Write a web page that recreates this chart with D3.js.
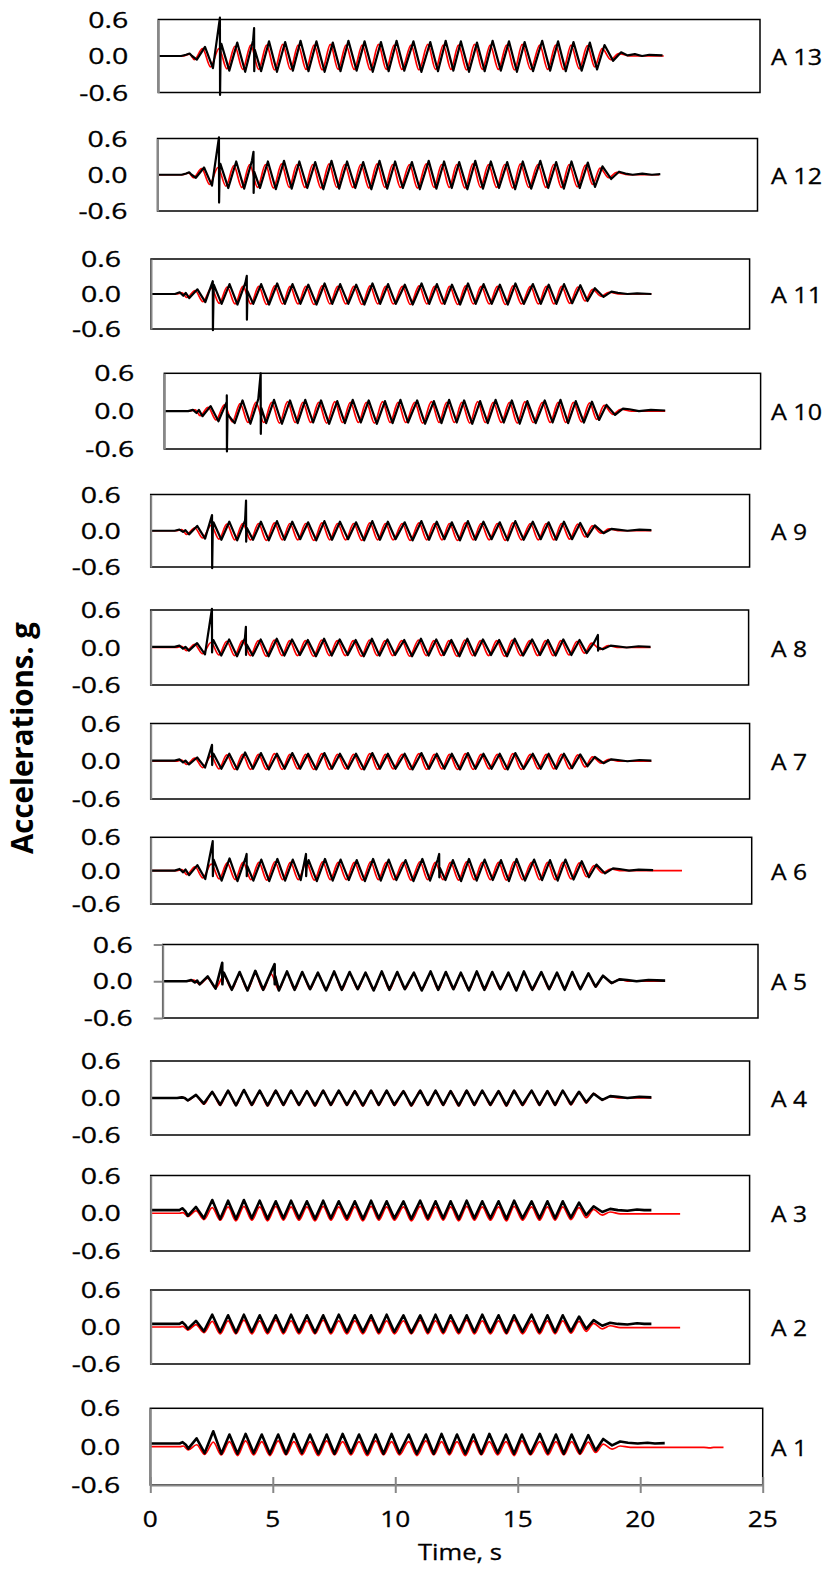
<!DOCTYPE html>
<html><head><meta charset="utf-8">
<script src="https://cdn.jsdelivr.net/npm/d3@7"></script>
<style>body{margin:0;background:#fff} text{font-family:"Open Sans",Lato,sans-serif;fill:#000}</style>
</head><body><svg id="c" width="831" height="1576"></svg>
<script>
// ---------------- DATA ----------------
const panelNames = ["A 13","A 12","A 11","A 10","A 9","A 8","A 7","A 6","A 5","A 4","A 3","A 2","A 1"];
const yTicks = [-0.6, 0.0, 0.6];
const yTickLabels = ["-0.6", "0.0", "0.6"];
const xTicks = [0, 5, 10, 15, 20, 25];
const xTickLabels = ["0", "5", "10", "15", "20", "25"];
// times (s) of cycle peaks / troughs read from the record
const peakTimes   = [1.89,2.57,3.23,3.89,4.55,5.22,5.86,6.52,7.20,7.85,8.52,9.20,9.85,10.55,11.25,11.89,12.52,13.19,13.84,14.52,15.17,15.90,16.56,17.20,17.88,18.49,19.18];
const troughTimes = [1.55,2.22,2.90,3.56,4.22,4.88,5.54,6.19,6.86,7.52,8.19,8.86,9.52,10.17,10.88,11.57,12.21,12.86,13.51,14.18,14.85,15.52,16.23,16.88,17.54,18.18,18.85];

// A 13
const a13BlackPk = [0.15,0.20,0.22,0.26,0.24,0.23,0.25,0.24,0.22,0.25,0.24,0.23,0.25,0.24,0.23,0.25,0.24,0.22,0.25,0.24,0.23,0.25,0.24,0.23,0.22,0.18,0.06];
const a13BlackTr = [-0.06,-0.20,-0.24,-0.26,-0.25,-0.26,-0.24,-0.25,-0.26,-0.25,-0.24,-0.26,-0.25,-0.24,-0.26,-0.25,-0.24,-0.26,-0.25,-0.24,-0.26,-0.25,-0.24,-0.25,-0.24,-0.22,-0.08];
const a13RedPk = [0.12,0.12,0.16,0.18,0.18,0.19,0.18,0.18,0.19,0.18,0.18,0.19,0.18,0.18,0.19,0.18,0.18,0.19,0.18,0.18,0.19,0.18,0.18,0.18,0.17,0.12,0.04];
const a13RedTr = [-0.06,-0.18,-0.21,-0.22,-0.22,-0.23,-0.22,-0.22,-0.23,-0.22,-0.22,-0.23,-0.22,-0.22,-0.23,-0.22,-0.22,-0.23,-0.22,-0.22,-0.23,-0.22,-0.22,-0.22,-0.21,-0.18,-0.06];
const a13BlackExtra = [[0,0],[0.95,0],[1.15,0.02],[1.3,0.04],[1.4,0.0],[19.5,0.01],[19.8,0.03],[20.1,0.0],[20.4,0.02],[20.95,0.01]];
const a13RedExtra = [[0,0],[1.0,0],[1.3,0.03],[19.6,0.0],[21.0,0.0]];
const a13Spikes = [[2.56,0.63,-0.64,0.12],[3.98,0.46,-0.25,0.10]];

// A 12
const a12BlackPk = [0.12,0.18,0.22,0.24,0.22,0.23,0.22,0.21,0.23,0.22,0.21,0.23,0.22,0.21,0.23,0.22,0.21,0.23,0.22,0.21,0.22,0.23,0.21,0.22,0.20,0.14,0.05];
const a12BlackTr = [-0.05,-0.18,-0.22,-0.23,-0.22,-0.24,-0.23,-0.22,-0.24,-0.23,-0.22,-0.24,-0.23,-0.22,-0.24,-0.23,-0.22,-0.24,-0.23,-0.22,-0.24,-0.23,-0.22,-0.23,-0.22,-0.20,-0.07];
const a12RedPk = [0.10,0.12,0.15,0.17,0.17,0.18,0.17,0.17,0.18,0.17,0.17,0.18,0.17,0.17,0.18,0.17,0.17,0.18,0.17,0.17,0.18,0.17,0.17,0.17,0.16,0.11,0.04];
const a12RedTr = [-0.05,-0.16,-0.19,-0.21,-0.21,-0.22,-0.21,-0.21,-0.22,-0.21,-0.21,-0.22,-0.21,-0.21,-0.22,-0.21,-0.21,-0.22,-0.21,-0.21,-0.22,-0.21,-0.21,-0.21,-0.20,-0.16,-0.05];
const a12BlackExtra = [[0,0],[1.0,0],[1.2,0.02],[1.32,0.04],[1.42,0.0],[19.5,0.02],[19.8,0.0],[20.2,0.02],[20.6,0.0],[20.95,0.01]];
const a12RedExtra = [[0,0],[1.05,0],[1.3,0.03],[19.6,0.0],[20.9,0.0]];
const a12Spikes = [[2.56,0.62,-0.46,0.10],[4.0,0.38,-0.30,0.05]];

// A 11
const a11BlackPk = [0.08,0.16,0.17,0.19,0.17,0.18,0.17,0.16,0.18,0.17,0.16,0.18,0.17,0.16,0.18,0.17,0.16,0.18,0.17,0.16,0.18,0.17,0.16,0.17,0.15,0.10,0.04];
const a11BlackTr = [-0.07,-0.14,-0.17,-0.18,-0.17,-0.18,-0.17,-0.17,-0.18,-0.17,-0.17,-0.18,-0.17,-0.17,-0.18,-0.17,-0.17,-0.18,-0.17,-0.17,-0.18,-0.17,-0.17,-0.17,-0.16,-0.12,-0.05];
const a11RedPk = [0.06,0.10,0.12,0.13,0.13,0.14,0.13,0.13,0.14,0.13,0.13,0.14,0.13,0.13,0.14,0.13,0.13,0.14,0.13,0.13,0.14,0.13,0.13,0.13,0.12,0.08,0.03];
const a11RedTr = [-0.06,-0.13,-0.16,-0.17,-0.17,-0.18,-0.17,-0.17,-0.18,-0.17,-0.17,-0.18,-0.17,-0.17,-0.18,-0.17,-0.17,-0.18,-0.17,-0.17,-0.18,-0.17,-0.17,-0.17,-0.16,-0.12,-0.04];
const a11BlackExtra = [[0,0],[1.0,0],[1.2,0.03],[1.35,-0.03],[1.45,0.02],[19.5,0.02],[19.9,0.0],[20.3,0.01],[20.9,0.0]];
const a11RedExtra = [[0,0],[1.05,0],[1.3,0.02],[19.6,0.0],[20.9,0.0]];
const a11Spikes = [[2.58,0.22,-0.62,-0.05],[4.0,0.31,-0.44,0.05]];

// A 10
const a10BlackPk = [0.08,0.15,0.17,0.19,0.18,0.17,0.18,0.17,0.16,0.18,0.17,0.16,0.18,0.17,0.16,0.18,0.17,0.16,0.18,0.17,0.16,0.17,0.18,0.16,0.15,0.10,0.04];
const a10BlackTr = [-0.08,-0.16,-0.19,-0.20,-0.19,-0.20,-0.19,-0.18,-0.20,-0.19,-0.18,-0.20,-0.19,-0.18,-0.20,-0.19,-0.18,-0.20,-0.19,-0.18,-0.20,-0.19,-0.18,-0.19,-0.18,-0.14,-0.06];
const a10RedPk = [0.06,0.10,0.12,0.14,0.14,0.15,0.14,0.14,0.15,0.14,0.14,0.15,0.14,0.14,0.15,0.14,0.14,0.15,0.14,0.14,0.15,0.14,0.14,0.14,0.13,0.09,0.03];
const a10RedTr = [-0.07,-0.14,-0.17,-0.18,-0.18,-0.19,-0.18,-0.18,-0.19,-0.18,-0.18,-0.19,-0.18,-0.18,-0.19,-0.18,-0.18,-0.19,-0.18,-0.18,-0.19,-0.18,-0.18,-0.18,-0.17,-0.13,-0.05];
const a10BlackExtra = [[0,0],[1.0,0],[1.2,0.02],[1.35,-0.03],[1.45,0.02],[19.5,0.03],[19.9,0.0],[20.4,0.02],[21.0,0.01]];
const a10RedExtra = [[0,0],[1.05,0],[1.3,0.02],[19.6,0.0],[21.0,0.0]];
const a10Spikes = [[2.62,0.25,-0.64,-0.05],[4.04,0.60,-0.36,0.05]];

// A 9
const a9BlackPk = [0.08,0.14,0.15,0.17,0.15,0.16,0.15,0.14,0.16,0.15,0.14,0.16,0.15,0.14,0.16,0.15,0.14,0.16,0.15,0.14,0.16,0.15,0.14,0.15,0.13,0.09,0.03];
const a9BlackTr = [-0.06,-0.13,-0.15,-0.16,-0.15,-0.16,-0.15,-0.14,-0.16,-0.15,-0.14,-0.16,-0.15,-0.14,-0.16,-0.15,-0.14,-0.16,-0.15,-0.14,-0.16,-0.15,-0.14,-0.15,-0.14,-0.10,-0.04];
const a9RedPk = [0.05,0.09,0.11,0.12,0.12,0.13,0.12,0.12,0.13,0.12,0.12,0.13,0.12,0.12,0.13,0.12,0.12,0.13,0.12,0.12,0.13,0.12,0.12,0.12,0.11,0.08,0.03];
const a9RedTr = [-0.06,-0.12,-0.14,-0.15,-0.15,-0.16,-0.15,-0.15,-0.16,-0.15,-0.15,-0.16,-0.15,-0.15,-0.16,-0.15,-0.15,-0.16,-0.15,-0.15,-0.16,-0.15,-0.15,-0.15,-0.14,-0.10,-0.04];
const a9BlackExtra = [[0,0],[1.0,0],[1.2,0.02],[1.35,-0.02],[1.45,0.01],[19.5,0.02],[19.9,0.0],[20.4,0.02],[20.9,0.01]];
const a9RedExtra = [[0,0],[1.05,0],[1.3,0.02],[19.6,0.0],[20.9,0.0]];
const a9Spikes = [[2.56,0.26,-0.62,0.0],[3.98,0.50,-0.18,0.05]];

// A 8
const a8BlackPk = [0.07,0.12,0.13,0.15,0.13,0.14,0.13,0.12,0.14,0.13,0.12,0.14,0.13,0.12,0.14,0.13,0.12,0.14,0.13,0.12,0.14,0.13,0.12,0.13,0.12,0.08,0.03];
const a8BlackTr = [-0.05,-0.11,-0.13,-0.14,-0.13,-0.14,-0.13,-0.12,-0.14,-0.13,-0.12,-0.14,-0.13,-0.12,-0.14,-0.13,-0.12,-0.14,-0.13,-0.12,-0.14,-0.13,-0.12,-0.13,-0.12,-0.09,-0.03];
const a8RedPk = [0.05,0.08,0.10,0.11,0.11,0.12,0.11,0.11,0.12,0.11,0.11,0.12,0.11,0.11,0.12,0.11,0.11,0.12,0.11,0.11,0.12,0.11,0.11,0.11,0.10,0.07,0.03];
const a8RedTr = [-0.05,-0.10,-0.12,-0.13,-0.13,-0.14,-0.13,-0.13,-0.14,-0.13,-0.13,-0.14,-0.13,-0.13,-0.14,-0.13,-0.13,-0.14,-0.13,-0.13,-0.14,-0.13,-0.13,-0.13,-0.12,-0.09,-0.03];
const a8BlackExtra = [[0,0.01],[1.0,0.01],[1.2,0.03],[1.35,-0.02],[1.45,0.01],[19.5,0.02],[19.9,0.0],[20.4,0.02],[20.9,0.01]];
const a8RedExtra = [[0,0],[1.05,0],[1.3,0.02],[19.6,0.0],[20.9,0.0]];
const a8Spikes = [[2.56,0.62,-0.08,0.08],[3.98,0.33,-0.12,0.05],[18.7,0.20,-0.05,0.0]];

// A 7
const a7BlackPk = [0.06,0.12,0.12,0.14,0.13,0.12,0.13,0.12,0.13,0.12,0.12,0.13,0.12,0.12,0.13,0.12,0.12,0.13,0.12,0.12,0.13,0.12,0.12,0.12,0.11,0.07,0.03];
const a7BlackTr = [-0.05,-0.10,-0.12,-0.13,-0.12,-0.13,-0.12,-0.12,-0.13,-0.12,-0.12,-0.13,-0.12,-0.12,-0.13,-0.12,-0.12,-0.13,-0.12,-0.12,-0.13,-0.12,-0.12,-0.12,-0.11,-0.08,-0.03];
const a7RedPk = [0.05,0.08,0.10,0.11,0.11,0.12,0.11,0.11,0.12,0.11,0.11,0.12,0.11,0.11,0.12,0.11,0.11,0.12,0.11,0.11,0.12,0.11,0.11,0.11,0.10,0.07,0.03];
const a7RedTr = [-0.05,-0.10,-0.12,-0.13,-0.13,-0.13,-0.13,-0.12,-0.13,-0.13,-0.12,-0.13,-0.13,-0.12,-0.13,-0.13,-0.12,-0.13,-0.13,-0.12,-0.13,-0.13,-0.12,-0.12,-0.12,-0.09,-0.03];
const a7BlackExtra = [[0,0.01],[1.0,0.01],[1.2,0.03],[1.35,-0.02],[1.45,0.01],[19.5,0.02],[19.9,0.0],[20.4,0.02],[20.9,0.01]];
const a7RedExtra = [[0,0],[1.05,0],[1.3,0.02],[19.6,0.0],[20.9,0.0]];
const a7Spikes = [[2.56,0.26,-0.06,0.08]];

// A 6
const a6BlackPk = [0.10,0.20,0.22,0.22,0.20,0.21,0.20,0.19,0.21,0.20,0.19,0.21,0.20,0.19,0.21,0.20,0.19,0.21,0.20,0.19,0.21,0.20,0.19,0.20,0.17,0.11,0.04];
const a6BlackTr = [-0.08,-0.15,-0.18,-0.19,-0.18,-0.19,-0.18,-0.17,-0.19,-0.18,-0.17,-0.19,-0.18,-0.17,-0.19,-0.18,-0.17,-0.19,-0.18,-0.17,-0.19,-0.18,-0.17,-0.18,-0.16,-0.12,-0.05];
const a6RedPk = [0.07,0.12,0.14,0.15,0.15,0.16,0.15,0.15,0.16,0.15,0.15,0.16,0.15,0.15,0.16,0.15,0.15,0.16,0.15,0.15,0.16,0.15,0.15,0.15,0.14,0.09,0.03];
const a6RedTr = [-0.07,-0.13,-0.15,-0.16,-0.16,-0.17,-0.16,-0.16,-0.17,-0.16,-0.16,-0.17,-0.16,-0.16,-0.17,-0.16,-0.16,-0.17,-0.16,-0.16,-0.17,-0.16,-0.16,-0.16,-0.15,-0.11,-0.04];
const a6BlackExtra = [[0,0.0],[1.0,0.0],[1.2,0.03],[1.35,-0.03],[1.45,0.02],[19.5,0.03],[19.9,0.0],[20.3,0.02],[20.9,0.01]];
const a6RedExtra = [[0,0],[1.05,0],[1.3,0.02],[19.6,0.0],[22.1,0.0]];
const a6Spikes = [[2.58,0.53,-0.10,0.10],[3.99,0.30,-0.10,0.08],[6.46,0.30,-0.10,0.08],[12.0,0.30,-0.12,0.05]];

// A 5
const a5BlackPk = [0.08,0.14,0.15,0.17,0.15,0.16,0.15,0.14,0.16,0.15,0.14,0.16,0.15,0.14,0.16,0.15,0.14,0.16,0.15,0.14,0.16,0.15,0.14,0.15,0.13,0.09,0.03];
const a5BlackTr = [-0.05,-0.12,-0.14,-0.15,-0.14,-0.15,-0.14,-0.13,-0.15,-0.14,-0.13,-0.15,-0.14,-0.13,-0.15,-0.14,-0.13,-0.15,-0.14,-0.13,-0.15,-0.14,-0.13,-0.14,-0.13,-0.09,-0.03];
const a5RedPk = [0.05,0.09,0.11,0.12,0.12,0.13,0.12,0.12,0.13,0.12,0.12,0.13,0.12,0.12,0.13,0.12,0.12,0.13,0.12,0.12,0.13,0.12,0.12,0.12,0.11,0.08,0.03];
const a5RedTr = [-0.05,-0.11,-0.13,-0.14,-0.14,-0.14,-0.14,-0.13,-0.14,-0.14,-0.13,-0.14,-0.14,-0.13,-0.14,-0.14,-0.13,-0.14,-0.14,-0.13,-0.14,-0.14,-0.13,-0.13,-0.12,-0.09,-0.03];
const a5BlackExtra = [[0,0.0],[1.0,0.0],[1.2,0.02],[1.35,-0.02],[1.45,0.01],[19.5,0.02],[19.9,0.0],[20.4,0.02],[21.1,0.01]];
const a5RedExtra = [[0,0],[1.05,0],[1.3,0.02],[19.6,0.0],[21.1,0.0]];
const a5Spikes = [[2.50,0.30,-0.05,0.08],[4.70,0.28,-0.05,0.08]];

// A 4
const a4BlackPk = [0.05,0.10,0.12,0.13,0.12,0.12,0.12,0.11,0.12,0.12,0.11,0.12,0.12,0.11,0.12,0.12,0.11,0.12,0.12,0.11,0.12,0.12,0.11,0.12,0.10,0.07,0.03];
const a4BlackTr = [-0.04,-0.09,-0.11,-0.12,-0.11,-0.12,-0.11,-0.11,-0.12,-0.11,-0.11,-0.12,-0.11,-0.11,-0.12,-0.11,-0.11,-0.12,-0.11,-0.11,-0.12,-0.11,-0.11,-0.11,-0.10,-0.07,-0.03];
const a4RedPk = [0.04,0.09,0.11,0.12,0.11,0.12,0.11,0.11,0.12,0.11,0.11,0.12,0.11,0.11,0.12,0.11,0.11,0.12,0.11,0.11,0.12,0.11,0.11,0.11,0.10,0.07,0.02];
const a4RedTr = [-0.04,-0.10,-0.12,-0.12,-0.12,-0.13,-0.12,-0.12,-0.13,-0.12,-0.12,-0.13,-0.12,-0.12,-0.13,-0.12,-0.12,-0.13,-0.12,-0.12,-0.13,-0.12,-0.12,-0.12,-0.11,-0.08,-0.03];
const a4BlackExtra = [[0,0.0],[1.1,0.0],[1.3,0.01],[1.42,0.0],[19.5,0.02],[19.9,0.0],[20.4,0.02],[20.9,0.01]];
const a4RedExtra = [[0,0],[1.1,0],[1.35,0.01],[19.6,0.0],[20.9,0.0]];
const a4Spikes = [];

// A 3
const a3BlackPk = [0.10,0.21,0.20,0.21,0.20,0.19,0.20,0.19,0.20,0.19,0.19,0.20,0.19,0.19,0.20,0.19,0.19,0.20,0.19,0.19,0.20,0.19,0.19,0.19,0.17,0.11,0.07];
const a3BlackTr = [-0.04,-0.08,-0.09,-0.09,-0.08,-0.09,-0.08,-0.08,-0.09,-0.08,-0.08,-0.09,-0.08,-0.08,-0.09,-0.08,-0.08,-0.09,-0.08,-0.08,-0.09,-0.08,-0.08,-0.08,-0.07,-0.03,0.02];
const a3RedPk = [0.04,0.09,0.10,0.11,0.10,0.11,0.10,0.10,0.11,0.10,0.10,0.11,0.10,0.10,0.11,0.10,0.10,0.11,0.10,0.10,0.11,0.10,0.10,0.10,0.09,0.06,0.02];
const a3RedTr = [-0.05,-0.10,-0.11,-0.12,-0.11,-0.12,-0.11,-0.11,-0.12,-0.11,-0.11,-0.12,-0.11,-0.11,-0.12,-0.11,-0.11,-0.12,-0.11,-0.11,-0.12,-0.11,-0.11,-0.11,-0.10,-0.07,-0.03];
const a3BlackExtra = [[0,0.05],[1.2,0.05],[1.32,0.08],[1.45,0.03],[19.5,0.05],[19.9,0.04],[20.3,0.06],[20.6,0.05],[20.9,0.05]];
const a3RedExtra = [[0,0.0],[1.2,0.0],[1.35,0.01],[19.6,-0.01],[22.1,-0.01]];
const a3Spikes = [];

// A 2
const a2BlackPk = [0.10,0.20,0.19,0.20,0.19,0.19,0.20,0.19,0.19,0.20,0.19,0.19,0.20,0.19,0.19,0.20,0.19,0.19,0.20,0.19,0.19,0.20,0.19,0.19,0.17,0.11,0.07];
const a2BlackTr = [-0.03,-0.07,-0.08,-0.09,-0.08,-0.08,-0.08,-0.08,-0.09,-0.08,-0.08,-0.08,-0.08,-0.08,-0.09,-0.08,-0.08,-0.08,-0.08,-0.08,-0.09,-0.08,-0.08,-0.08,-0.07,-0.03,0.02];
const a2RedPk = [0.04,0.09,0.10,0.11,0.10,0.11,0.10,0.10,0.11,0.10,0.10,0.11,0.10,0.10,0.11,0.10,0.10,0.11,0.10,0.10,0.11,0.10,0.10,0.10,0.09,0.06,0.02];
const a2RedTr = [-0.05,-0.09,-0.11,-0.11,-0.11,-0.11,-0.11,-0.11,-0.11,-0.11,-0.11,-0.11,-0.11,-0.11,-0.11,-0.11,-0.11,-0.11,-0.11,-0.11,-0.11,-0.11,-0.11,-0.11,-0.10,-0.07,-0.03];
const a2BlackExtra = [[0,0.05],[1.2,0.05],[1.32,0.08],[1.45,0.03],[19.5,0.05],[19.9,0.04],[20.3,0.06],[20.6,0.05],[20.9,0.05]];
const a2RedExtra = [[0,0.0],[1.2,0.0],[1.35,0.01],[19.6,-0.01],[22.1,-0.01]];
const a2Spikes = [];

// A 1
const a1BlackPk = [0.13,0.24,0.19,0.20,0.19,0.19,0.20,0.19,0.19,0.20,0.19,0.19,0.20,0.19,0.19,0.20,0.19,0.19,0.20,0.19,0.19,0.20,0.19,0.19,0.18,0.12,0.08];
const a1BlackTr = [-0.03,-0.10,-0.11,-0.11,-0.10,-0.11,-0.11,-0.10,-0.11,-0.11,-0.10,-0.11,-0.11,-0.10,-0.11,-0.11,-0.10,-0.11,-0.11,-0.10,-0.11,-0.11,-0.10,-0.11,-0.10,-0.06,0.02];
const a1RedPk = [0.03,0.07,0.08,0.09,0.08,0.09,0.08,0.08,0.09,0.08,0.08,0.09,0.08,0.08,0.09,0.08,0.08,0.09,0.08,0.08,0.09,0.08,0.08,0.08,0.07,0.04,0.01];
const a1RedTr = [-0.05,-0.12,-0.13,-0.14,-0.13,-0.14,-0.13,-0.13,-0.14,-0.13,-0.13,-0.14,-0.13,-0.13,-0.14,-0.13,-0.13,-0.14,-0.13,-0.13,-0.14,-0.13,-0.13,-0.13,-0.12,-0.09,-0.04];
const a1BlackExtra = [[0,0.05],[1.2,0.05],[1.32,0.07],[1.45,0.03],[19.5,0.06],[19.9,0.05],[20.3,0.06],[20.6,0.05],[21.0,0.055]];
const a1RedExtra = [[0,0.0],[1.2,0.0],[1.35,0.01],[19.6,-0.01],[22.6,-0.01],[22.85,-0.02],[23.0,-0.01],[23.4,-0.01]];
const a1Spikes = [];

// ---------------- BUILD ----------------
const seriesTable = [
  [a13BlackPk,a13BlackTr,a13RedPk,a13RedTr,a13BlackExtra,a13RedExtra,a13Spikes],
  [a12BlackPk,a12BlackTr,a12RedPk,a12RedTr,a12BlackExtra,a12RedExtra,a12Spikes],
  [a11BlackPk,a11BlackTr,a11RedPk,a11RedTr,a11BlackExtra,a11RedExtra,a11Spikes],
  [a10BlackPk,a10BlackTr,a10RedPk,a10RedTr,a10BlackExtra,a10RedExtra,a10Spikes],
  [a9BlackPk,a9BlackTr,a9RedPk,a9RedTr,a9BlackExtra,a9RedExtra,a9Spikes],
  [a8BlackPk,a8BlackTr,a8RedPk,a8RedTr,a8BlackExtra,a8RedExtra,a8Spikes],
  [a7BlackPk,a7BlackTr,a7RedPk,a7RedTr,a7BlackExtra,a7RedExtra,a7Spikes],
  [a6BlackPk,a6BlackTr,a6RedPk,a6RedTr,a6BlackExtra,a6RedExtra,a6Spikes],
  [a5BlackPk,a5BlackTr,a5RedPk,a5RedTr,a5BlackExtra,a5RedExtra,a5Spikes],
  [a4BlackPk,a4BlackTr,a4RedPk,a4RedTr,a4BlackExtra,a4RedExtra,a4Spikes],
  [a3BlackPk,a3BlackTr,a3RedPk,a3RedTr,a3BlackExtra,a3RedExtra,a3Spikes],
  [a2BlackPk,a2BlackTr,a2RedPk,a2RedTr,a2BlackExtra,a2RedExtra,a2Spikes],
  [a1BlackPk,a1BlackTr,a1RedPk,a1RedTr,a1BlackExtra,a1RedExtra,a1Spikes]
];

// layout of each panel's plot box (pixels)
const layout = [
  {top:19.5, bottom:92.5, left:158.3, right:760},
  {top:138.5, bottom:211, left:157.5, right:757.5},
  {top:259, bottom:329, left:151, right:749.6},
  {top:373.3, bottom:449, left:164.3, right:760.6},
  {top:494.5, bottom:567, left:150.7, right:749.6},
  {top:610, bottom:685, left:150.7, right:748.6},
  {top:723.5, bottom:799, left:150.7, right:749.6},
  {top:837.3, bottom:904, left:150.7, right:751.7},
  {top:944.5, bottom:1018, left:162.7, right:758},
  {top:1061, bottom:1135, left:150.7, right:749.6},
  {top:1175.5, bottom:1251, left:150.7, right:749.6},
  {top:1290, bottom:1364, left:150.7, right:749.6},
  {top:1408.3, bottom:1485, left:150.3, right:762.7}
];

const FS = 22;
const GRAY = "#878787";
const svg = d3.select("#c");

// widths (px) the wide-set labels of the original occupy
function labelWidth(str) {
  let w = 0;
  for (const ch of str) {
    if (ch >= "0" && ch <= "9") w += 15;
    else if (ch === ".") w += 10;
    else if (ch === "-") w += 9;
    else if (ch === "A") w += 16;
    else if (ch === " ") w += 5;
    else w += 12;
  }
  return w;
}

function label(parent, x, y, str, anchor, len) {
  return parent.append("text")
    .attr("x", x).attr("y", y)
    .attr("text-anchor", anchor)
    .attr("font-size", FS)
    .attr("stroke", "#000").attr("stroke-width", 0.3)
    .attr("textLength", len || labelWidth(str))
    .attr("lengthAdjust", "spacingAndGlyphs")
    .text(str);
}

function buildSeries(pk, tr, extra, spikes, shift) {
  const pts = extra.map(d => [d[0], d[1]]);
  pk.forEach((v, i) => pts.push([peakTimes[i] + shift, v]));
  tr.forEach((v, i) => pts.push([troughTimes[i] + shift, v]));
  spikes.forEach(s => {
    pts.push([s[0], s[1]]);
    pts.push([s[0] + 0.006, s[2]]);
    pts.push([s[0] + 0.03, s[3]]);
  });
  pts.sort((a, b) => a[0] - b[0]);
  return pts;
}

panelNames.forEach((name, k) => {
  const L = layout[k];
  const [bPk, bTr, rPk, rTr, bEx, rEx, sp] = seriesTable[k];
  const x = d3.scaleLinear().domain([0, 25]).range([L.left, L.right]);
  const y = d3.scaleLinear().domain([-0.6, 0.6]).range([L.bottom, L.top]);
  const g = svg.append("g");

  g.append("rect").attr("x", L.left).attr("y", L.top)
    .attr("width", L.right - L.left).attr("height", L.bottom - L.top)
    .attr("fill", "none").attr("stroke", "#000").attr("stroke-width", 1.5);

  const upper = k < 8;
  const red = buildSeries(rPk, rTr, rEx, [], upper ? -0.05 : 0);
  const black = buildSeries(bPk, bTr, bEx, sp, upper ? 0.05 : 0);

  g.append("path").datum(red)
    .attr("d", d3.line().x(d => x(d[0])).y(d => y(d[1])).curve(d3.curveMonotoneX))
    .attr("fill", "none").attr("stroke", "#ff0000").attr("stroke-width", 1.7);
  g.append("path").datum(black)
    .attr("d", d3.line().x(d => x(d[0])).y(d => y(d[1])))
    .attr("fill", "none").attr("stroke", "#000").attr("stroke-width", upper ? 2.2 : 2.6)
    .attr("stroke-linejoin", "round");

  // y axis
  const isA5 = name === "A 5";
  const ya = g.append("g").attr("transform", `translate(${L.left},0)`)
    .call(d3.axisLeft(y).tickValues(yTicks).tickSizeInner(isA5 ? 9 : 0).tickSizeOuter(0).tickFormat(""));
  ya.selectAll("path,line").attr("stroke", GRAY).attr("stroke-width", 2);

  yTicks.forEach((v, i) => {
    label(g, L.left - 30, y(v) + 8, yTickLabels[i], "end");
  });

  label(g, 771, (L.top + L.bottom) / 2 + 9, name, "start");

  if (k === panelNames.length - 1) {
    const xa = g.append("g").attr("transform", `translate(0,${L.bottom})`)
      .call(d3.axisBottom(x).tickValues(xTicks).tickSizeOuter(0).tickFormat(""));
    xa.selectAll("path,line").attr("stroke", GRAY).attr("stroke-width", 2);
    xa.selectAll(".tick line").attr("y1", -8).attr("y2", 8);
    xTicks.forEach((v, i) => label(g, x(v), L.bottom + 42, xTickLabels[i], "middle"));
    label(g, 460, 1560, "Time, s", "middle", 84);
  }
});

// y-axis title
svg.append("text")
  .attr("transform", "translate(33,738) rotate(-90) scale(1,1.2)")
  .attr("text-anchor", "middle").attr("font-size", 26).attr("font-weight", "bold")
  .attr("textLength", 232).attr("lengthAdjust", "spacingAndGlyphs")
  .text("Accelerations. g");
</script></body></html>
